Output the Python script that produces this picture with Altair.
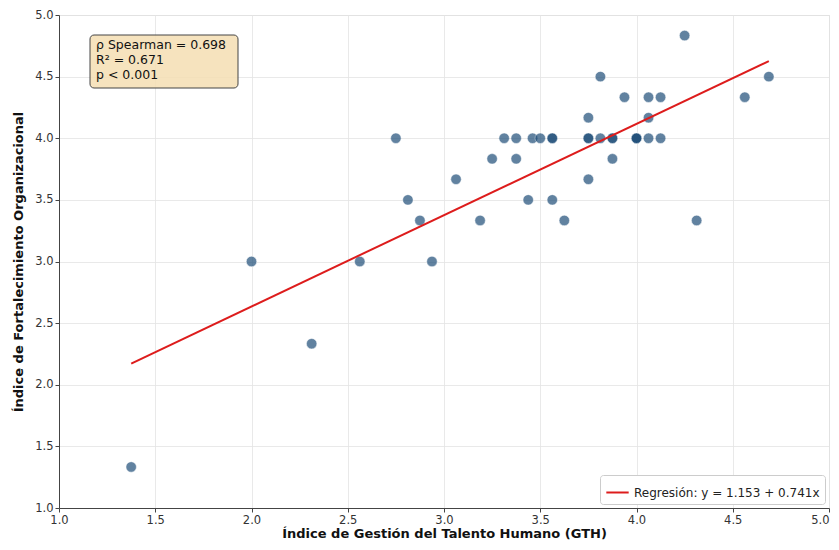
import altair as alt
import pandas as pd

# Scatter data (GTH index vs Fortalecimiento index)
gth = [1.375, 2.0, 2.3125, 2.5625, 2.75, 2.8125, 2.875, 2.9375, 3.0625, 3.1875,
       3.25, 3.3125, 3.375, 3.375, 3.4375, 3.46, 3.5, 3.5625, 3.5625, 3.5625,
       3.625, 3.75, 3.75, 3.75, 3.75, 3.8125, 3.8125, 3.875, 3.875, 3.875,
       3.9375, 4.0, 4.0, 4.0, 4.0625, 4.0625, 4.0625, 4.125, 4.125, 4.25,
       4.3125, 4.5625, 4.6875]
fort = [1.333, 3.0, 2.333, 3.0, 4.0, 3.5, 3.333, 3.0, 3.667, 3.333,
        3.833, 4.0, 4.0, 3.833, 3.5, 4.0, 4.0, 4.0, 4.0, 3.5,
        3.333, 4.167, 4.0, 4.0, 3.667, 4.5, 4.0, 4.0, 4.0, 3.833,
        4.333, 4.0, 4.0, 4.0, 4.333, 4.167, 4.0, 4.333, 4.0, 4.833,
        3.333, 4.333, 4.5]

# Regression line endpoints
reg_x = [1.375, 4.6875]
reg_y = [2.172, 4.626]
reg_label = "Regresión: y = 1.153 + 0.741x"

stats_lines = ["ρ Spearman = 0.698", "R² = 0.671", "p < 0.001"]

tick_vals = [1.0, 1.5, 2.0, 2.5, 3.0, 3.5, 4.0, 4.5, 5.0]

pts = pd.DataFrame({"x": gth, "y": fort})
reg = pd.DataFrame({"x": reg_x, "y": reg_y, "serie": [reg_label] * len(reg_x)})
stats = pd.DataFrame({"t": ["\n".join(stats_lines)]})

FONT = "DejaVu Sans"

xscale = alt.Scale(domain=[1.0, 5.0], nice=False, zero=False)
yscale = alt.Scale(domain=[1.0, 5.0], nice=False, zero=False)

xaxis = alt.Axis(values=tick_vals, format=".1f", title="Índice de Gestión del Talento Humano (GTH)",
                 titleFontWeight="bold", titleFontSize=13, titleFont=FONT, titleColor="#111",
                 labelFont=FONT, labelFontSize=11.5, labelColor="#333", tickColor="#444",
                 domainColor="#444", tickSize=4, labelPadding=2, titlePadding=2,
                 gridColor="#e3e3e3", gridWidth=0.8, labelFlush=False,
                 labelAlign={"condition": {"test": "datum.value >= 5", "value": "right"},
                             "value": "center"})
yaxis = alt.Axis(values=tick_vals, format=".1f", title="Índice de Fortalecimiento Organizacional",
                 titleFontWeight="bold", titleFontSize=13, titleFont=FONT, titleColor="#111",
                 labelFont=FONT, labelFontSize=11.5, labelColor="#333", tickColor="#444",
                 domainColor="#444", tickSize=4, labelPadding=2, titlePadding=9,
                 gridColor="#e3e3e3", gridWidth=0.8, labelFlush=False)

points = alt.Chart(pts).mark_circle(size=110, color="#1f4e79", opacity=0.7,
                                    stroke="white", strokeWidth=0.5).encode(
    x=alt.X("x:Q", scale=xscale, axis=xaxis),
    y=alt.Y("y:Q", scale=yscale, axis=yaxis),
)

line = alt.Chart(reg).mark_line(strokeWidth=2).encode(
    x=alt.X("x:Q", scale=xscale),
    y=alt.Y("y:Q", scale=yscale),
    color=alt.Color("serie:N", scale=alt.Scale(range=["#dd1c1c"]),
                    legend=alt.Legend(title=None, orient="bottom-right", offset=4,
                                      symbolType="stroke", symbolStrokeWidth=2,
                                      symbolSize=500, labelFont=FONT, labelFontSize=12,
                                      labelColor="#222", labelLimit=400, fillColor="white",
                                      strokeColor="#cccccc", cornerRadius=3, padding=5)),
)

box = alt.Chart(stats).mark_rect(fill="#f5deb3", fillOpacity=0.85, stroke="#444",
                                 strokeWidth=1, cornerRadius=4).encode(
    x=alt.value(31), x2=alt.value(179), y=alt.value(20), y2=alt.value(73)
)
txt = alt.Chart(stats).mark_text(align="left", baseline="top", lineBreak="\n",
                                 font=FONT, fontSize=12.5, lineHeight=15, color="#111").encode(
    x=alt.value(37), y=alt.value(24), text="t:N"
)

chart = alt.layer(points, line, box, txt).properties(
    width=770, height=493,
    autosize=alt.AutoSizeParams(type="none"),
    padding={"left": 51, "top": 7, "right": 2, "bottom": 34},
).configure_view(stroke="#444", strokeWidth=1).configure(background="white")

chart.save("out.html", embed_options={"renderer": "svg", "actions": False})
